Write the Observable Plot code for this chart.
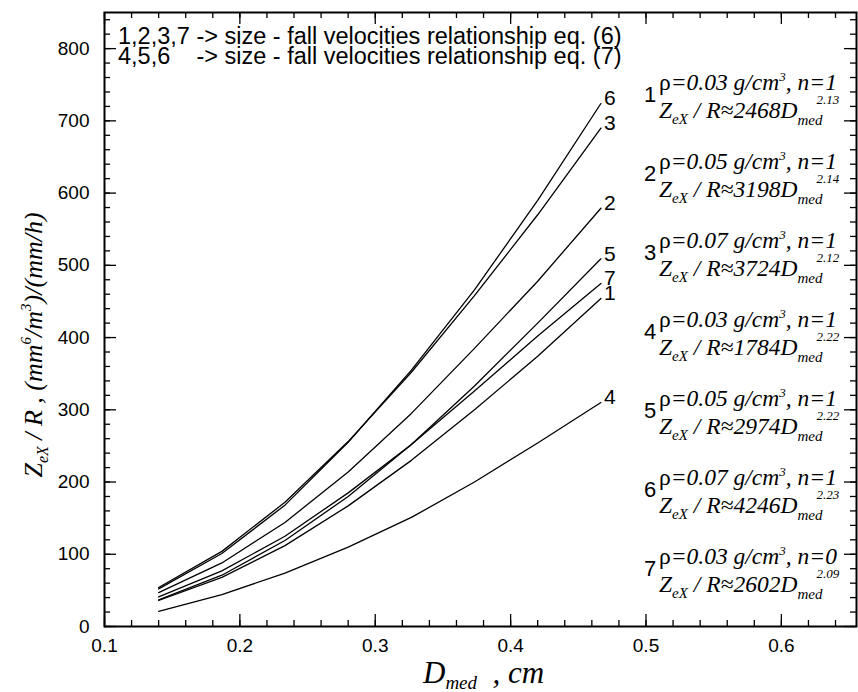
<!DOCTYPE html>
<html><head><meta charset="utf-8">
<script src="https://cdn.jsdelivr.net/npm/d3@7"></script>
<script src="https://cdn.jsdelivr.net/npm/@observablehq/plot@0.6"></script>
<style>body{margin:0;background:#fff}</style>
</head><body><div id="chart"></div>
<script>
// ---- data ----
const dmed = [0.14, 0.1867, 0.2333, 0.28, 0.3267, 0.3733, 0.42, 0.4667];
const curve1 = [36, 68, 112, 167, 230, 300, 374, 454];
const curve2 = [47, 88, 144, 214, 295, 385, 478, 579];
const curve3 = [54, 104, 172, 256, 352, 458, 570, 690];
const curve4 = [21, 44, 74, 110, 151, 200, 254, 310];
const curve5 = [37, 71, 119, 180, 252, 333, 420, 509];
const curve6 = [52, 101, 168, 255, 355, 466, 590, 724];
const curve7 = [41, 77, 125, 185, 252, 326, 402, 475];
const curveNames = ["1", "2", "3", "4", "5", "6", "7"];
const xTicks = [0.1, 0.2, 0.3, 0.4, 0.5, 0.6];
const yTicks = [0, 100, 200, 300, 400, 500, 600, 700, 800];
const xMinorTicks = [0.1,0.12,0.14,0.16,0.18,0.2,0.22,0.24,0.26,0.28,0.3,0.32,0.34,0.36,0.38,0.4,0.42,0.44,0.46,0.48,0.5,0.52,0.54,0.56,0.58,0.6,0.62,0.64];
const yMinorTicks = [0,20,40,60,80,100,120,140,160,180,200,220,240,260,280,300,320,340,360,380,400,420,440,460,480,500,520,540,560,580,600,620,640,660,680,700,720,740,760,780,800,820,840];
const legendLine1 = ["1,2,3,7", "-> size - fall velocities relationship eq. (6)"];
const legendLine2 = ["4,5,6", "-> size - fall velocities relationship eq. (7)"];
const rhoValues = ["0.03", "0.05", "0.07", "0.03", "0.05", "0.07", "0.03"];
const nValues = ["1", "1", "1", "1", "1", "1", "0"];
const coefValues = ["2468", "3198", "3724", "1784", "2974", "4246", "2602"];
const expValues = ["2.13", "2.14", "2.12", "2.22", "2.22", "2.23", "2.09"];

const curves = [curve1, curve2, curve3, curve4, curve5, curve6, curve7];
const rows = [];
curves.forEach((c, i) => c.forEach((v, j) => rows.push({D: dmed[j], Z: v, curve: curveNames[i]})));

// ---- layout ----
const W = 858, H = 692, mL = 104, mR = 2, mT = 12, mB = 66;
const innerW = W - mL - mR, innerH = H - mT - mB;
const sans = "'Liberation Sans', Arial, Helvetica, sans-serif";
const serif = "'Liberation Serif', 'Times New Roman', serif";

const plot = Plot.plot({
  width: W, height: H,
  marginLeft: mL, marginRight: mR, marginTop: mT, marginBottom: mB,
  x: {domain: [0.1, 0.6555], label: null},
  y: {domain: [0, 850], label: null},
  style: {fontFamily: sans, fontSize: "19px", color: "#000", background: "#fff"},
  marks: [
    Plot.axisX(xTicks, {tickSize: 0, tickPadding: 12, tickFormat: d => d.toFixed(1), label: null, fontSize: 19}),
    Plot.axisY(yTicks, {tickSize: 0, tickPadding: 15, label: null, fontSize: 19}),
    // inward ticks on all four sides
    Plot.tickX(xMinorTicks, {x: d => d, insetTop: innerH - 6, strokeWidth: 1.3}),
    Plot.tickX(xTicks, {x: d => d, insetTop: innerH - 12, strokeWidth: 1.3}),
    Plot.tickX(xMinorTicks, {x: d => d, insetBottom: innerH - 6, strokeWidth: 1.3}),
    Plot.tickX(xTicks, {x: d => d, insetBottom: innerH - 12, strokeWidth: 1.3}),
    Plot.tickY(yMinorTicks, {y: d => d, insetRight: innerW - 6, strokeWidth: 1.3}),
    Plot.tickY(yTicks, {y: d => d, insetRight: innerW - 12, strokeWidth: 1.3}),
    Plot.tickY(yMinorTicks, {y: d => d, insetLeft: innerW - 6, strokeWidth: 1.3}),
    Plot.tickY(yTicks, {y: d => d, insetLeft: innerW - 12, strokeWidth: 1.3}),
    Plot.frame({stroke: "#000", strokeWidth: 2}),
    Plot.line(rows, {x: "D", y: "Z", z: "curve", stroke: "#000", strokeWidth: 1.3}),
    Plot.text(rows, Plot.selectLast({x: "D", y: "Z", z: "curve", text: "curve",
      textAnchor: "start", dx: 3, dy: -5, fontSize: 21, fontFamily: sans, fill: "#000"}))
  ]
});
document.getElementById("chart").appendChild(plot);

const svg = d3.select(plot);

// legend (top-left)
const lg = svg.append("g").attr("font-family", sans).attr("font-size", 23.5).attr("fill", "#000")
  .attr("text-anchor", "start");
lg.append("text").attr("x", 118).attr("y", 44).text(legendLine1[0] + " " + legendLine1[1]);
const pre = lg.append("text").attr("x", 118).attr("y", -100).text(legendLine1[0] + " ");
const arrowX = 118 + pre.node().getComputedTextLength();
pre.remove();
lg.append("text").attr("x", 118).attr("y", 64).text(legendLine2[0]);
lg.append("text").attr("x", arrowX).attr("y", 64).text(legendLine2[1]);

// right-hand annotation blocks
const ann = svg.append("g").attr("fill", "#000").attr("text-anchor", "start");
curveNames.forEach((name, k) => {
  const rhoBase = 90 + 79 * k;
  const zBase = rhoBase + 28;
  ann.append("text").attr("x", 650).attr("y", rhoBase + 12).attr("text-anchor", "middle")
    .attr("font-family", sans).attr("font-size", 22).text(name);
  const r = ann.append("text").attr("x", 659).attr("y", rhoBase)
    .attr("font-family", serif).attr("font-size", 23.5).attr("font-style", "italic");
  r.append("tspan").attr("font-style", "normal").text("ρ");
  r.append("tspan").text("=" + rhoValues[k] + " g/cm");
  r.append("tspan").attr("font-size", 13).attr("dy", -9).text("3");
  r.append("tspan").attr("dy", 9).text(", n=" + nValues[k]);
  const z = ann.append("text").attr("x", 659).attr("y", zBase)
    .attr("font-family", serif).attr("font-size", 23.5).attr("font-style", "italic");
  z.append("tspan").text("Z");
  z.append("tspan").attr("font-size", 15).attr("dy", 6).text("eX");
  z.append("tspan").attr("dy", -6).text(" / R≈" + coefValues[k] + "D");
  z.append("tspan").attr("font-size", 15).attr("dy", 7).text("med");
  z.append("tspan").attr("font-size", 13).attr("dx", -6).attr("dy", -21).text(expValues[k]);
});

// y axis label (rotated)
const yl = svg.append("text").attr("transform", "translate(42,345) rotate(-90)")
  .attr("text-anchor", "middle").attr("font-family", serif).attr("font-size", 26)
  .attr("font-style", "italic").attr("fill", "#000");
yl.append("tspan").text("Z");
yl.append("tspan").attr("font-size", 16).attr("dy", 6).text("eX");
yl.append("tspan").attr("dy", -6).text(" / R , (mm");
yl.append("tspan").attr("font-size", 15).attr("dy", -11).text("6");
yl.append("tspan").attr("dy", 11).text("/m");
yl.append("tspan").attr("font-size", 15).attr("dy", -11).text("3");
yl.append("tspan").attr("dy", 11).text(")/(mm/h)");

// x axis label
const xl = svg.append("text").attr("x", 423).attr("y", 683).attr("text-anchor", "start")
  .attr("font-family", serif).attr("font-size", 31).attr("font-style", "italic").attr("fill", "#000");
xl.append("tspan").text("D");
xl.append("tspan").attr("font-size", 19).attr("dy", 6).text("med");
xl.append("tspan").attr("dy", -6).text("  , cm");
</script>
</body></html>
